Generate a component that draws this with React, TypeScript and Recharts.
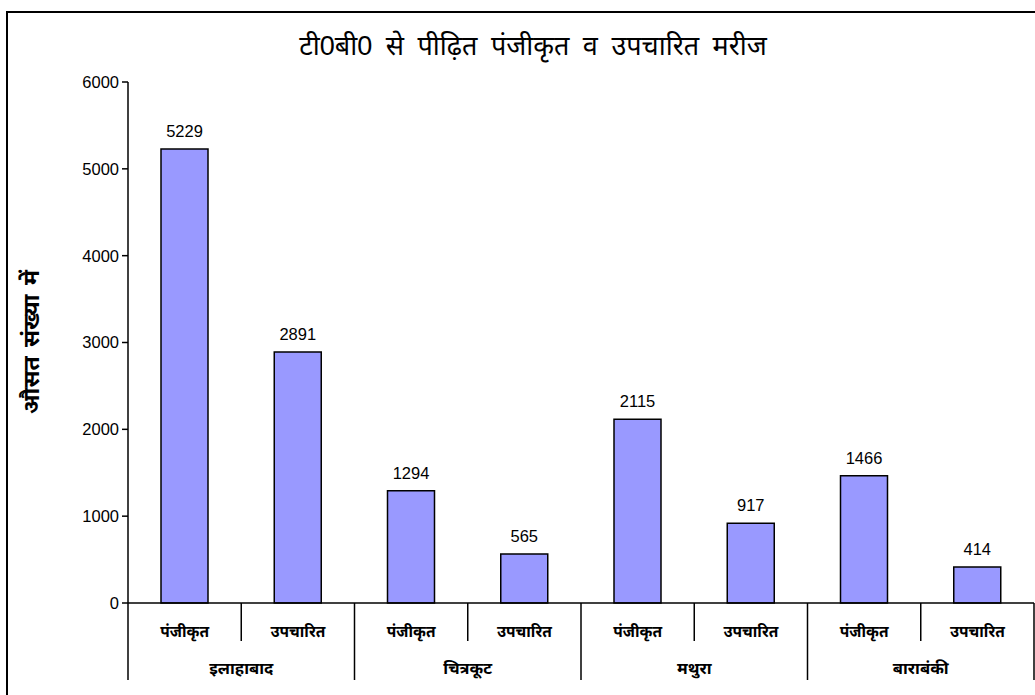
import { BarChart, Bar, XAxis, YAxis, LabelList } from 'recharts';

const districts = ['इलाहाबाद', 'चित्रकूट', 'मथुरा', 'बाराबंकी'];
const statuses = ['पंजीकृत', 'उपचारित'];
const patients = [5229, 2891, 1294, 565, 2115, 917, 1466, 414];
const yTicks = [0, 1000, 2000, 3000, 4000, 5000, 6000];

const data = patients.map((value, i) => ({
  key: `${districts[Math.floor(i / 2)]}-${statuses[i % 2]}`,
  status: statuses[i % 2],
  district: districts[Math.floor(i / 2)],
  value,
}));

const W = 1035;
const H = 695;
const PLOT_LEFT = 128;
const PLOT_RIGHT = 1034;
const PLOT_TOP = 82;
const PLOT_BOTTOM = 603;
const SLOT = (PLOT_RIGHT - PLOT_LEFT) / data.length;
const FONT = 'Arial, "Liberation Sans", "Noto Sans", sans-serif';

function CategoryTick(props: any) {
  const { index } = props;
  const left = PLOT_LEFT + index * SLOT;
  const right = left + SLOT;
  const row = data[index];
  const isFirst = index % 2 === 0;
  return (
    <g>
      <text x={left + SLOT / 2} y={637} textAnchor="middle" fontSize={15.5} fontWeight="bold" fill="#000" fontFamily={FONT}>
        {row.status}
      </text>
      {isFirst ? (
        <>
          <line x1={left} y1={PLOT_BOTTOM} x2={left} y2={680} stroke="#000" strokeWidth={1.5} />
          <line x1={right} y1={PLOT_BOTTOM} x2={right} y2={641} stroke="#000" strokeWidth={1.5} />
          <text x={right} y={674} textAnchor="middle" fontSize={16.5} fontWeight="bold" fill="#000" fontFamily={FONT}>
            {row.district}
          </text>
        </>
      ) : null}
      {index === data.length - 1 ? (
        <line x1={right} y1={PLOT_BOTTOM} x2={right} y2={680} stroke="#000" strokeWidth={1.5} />
      ) : null}
    </g>
  );
}

export default function App() {
  return (
    <div style={{ position: 'absolute', left: 0, top: 0, width: W, height: H, overflow: 'hidden', background: '#fff' }}>
      <div style={{ position: 'absolute', left: 6, top: 11, width: 1200, height: 900, border: '2px solid #000' }} />
      <div
        style={{
          position: 'absolute', left: 0, top: 26, width: 1066, textAlign: 'center',
          fontSize: 27, wordSpacing: 6, fontFamily: FONT, color: '#000',
        }}
      >
        टी0बी0 से पीढ़ित पंजीकृत व उपचारित मरीज
      </div>
      <div
        style={{
          position: 'absolute', left: 30, top: 342, transform: 'translate(-50%, -50%) rotate(-90deg)',
          whiteSpace: 'nowrap', fontSize: 23, fontWeight: 'bold', wordSpacing: 3, fontFamily: FONT, color: '#000',
        }}
      >
        औसत संख्या में
      </div>
      <div style={{ position: 'absolute', left: 0, top: 0 }}>
        <BarChart
          width={W}
          height={H}
          data={data}
          margin={{ top: PLOT_TOP, left: PLOT_LEFT - 70, right: W - PLOT_RIGHT, bottom: H - PLOT_BOTTOM - 85 }}
          barCategoryGap={0}
        >
          <XAxis
            dataKey="key"
            height={85}
            interval={0}
            tickLine={false}
            axisLine={{ stroke: '#000', strokeWidth: 1.5 }}
            tick={<CategoryTick />}
          />
          <YAxis
            width={70}
            domain={[0, 6000]}
            ticks={yTicks}
            interval={0}
            tickSize={6}
            tickMargin={3}
            tickLine={{ stroke: '#000', strokeWidth: 1.5 }}
            axisLine={{ stroke: '#000', strokeWidth: 1.5 }}
            tick={{ fill: '#000', fontSize: 16.5, fontFamily: FONT }}
          />
          <Bar dataKey="value" fill="#9999FF" stroke="#000" strokeWidth={1.5} barSize={47} isAnimationActive={false}>
            <LabelList dataKey="value" position="top" offset={12} fill="#000" fontSize={16.5} fontFamily={FONT} />
          </Bar>
        </BarChart>
      </div>
    </div>
  );
}
